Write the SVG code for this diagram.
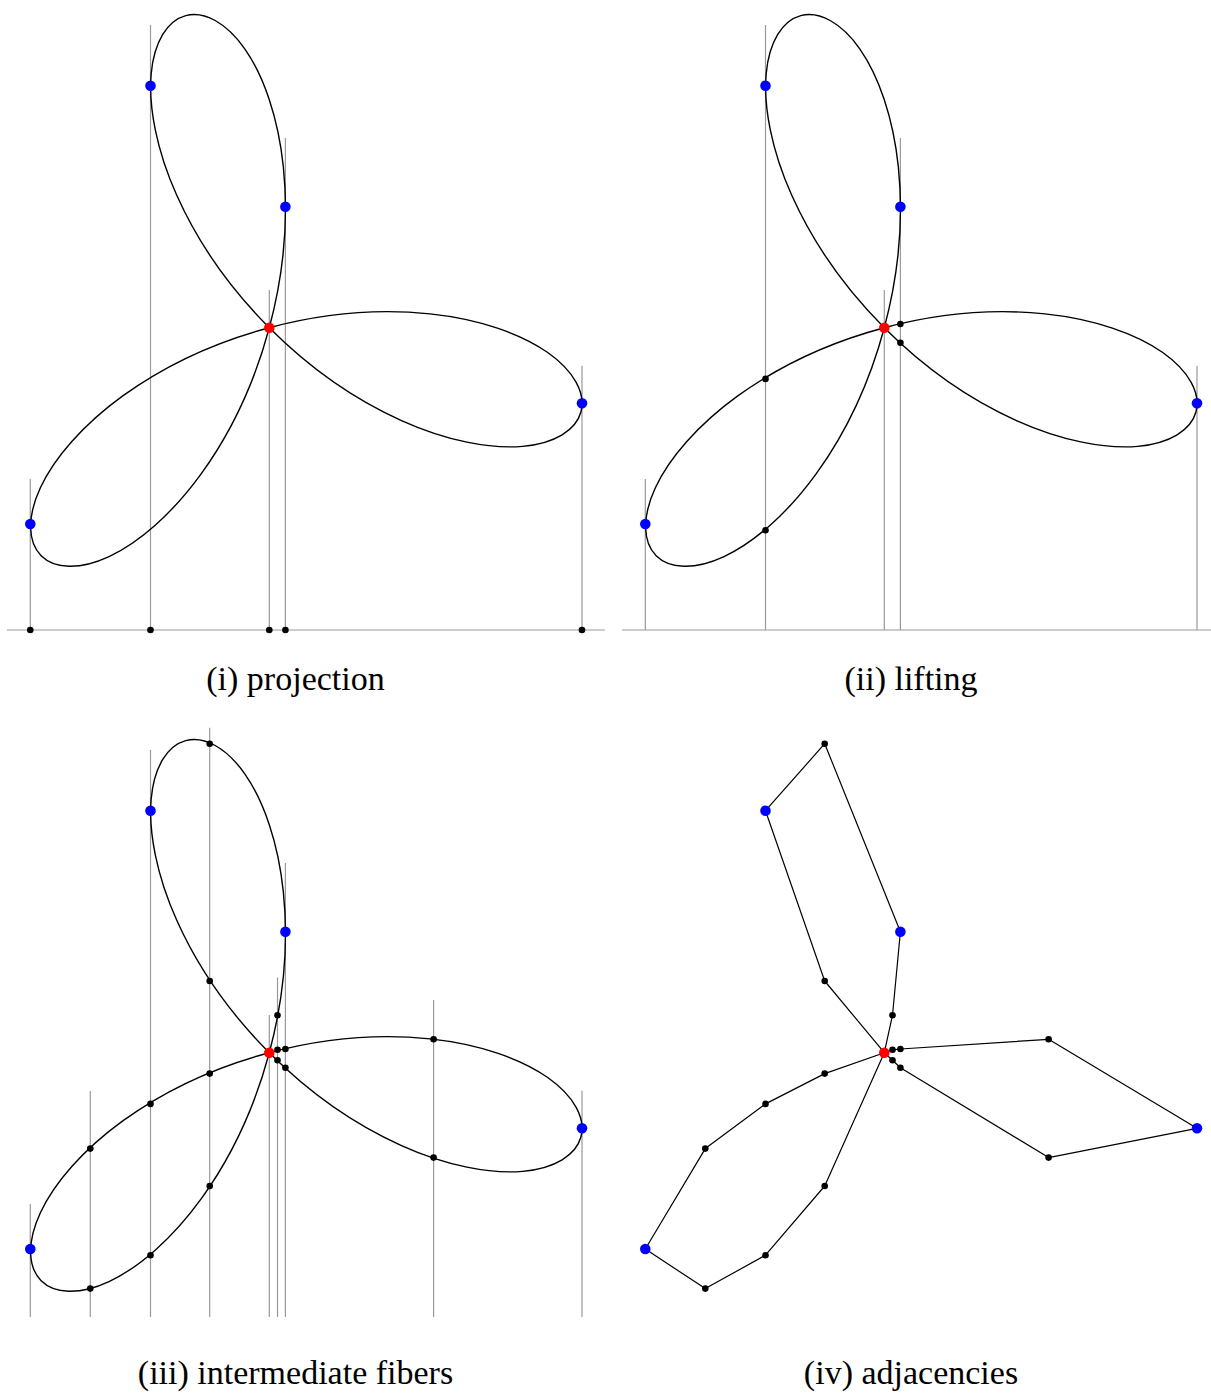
<svg xmlns="http://www.w3.org/2000/svg" xmlns:xlink="http://www.w3.org/1999/xlink" width="1211" height="1394" viewBox="0 0 1211 1394">
<style>
.fib{stroke:#999;stroke-width:1.2;fill:none}
.edge{stroke:#000;stroke-width:1.2;fill:none;stroke-linejoin:round}
.blue{fill:#0000ff}
.red{fill:#ff0000}
.pt{fill:#000}
.cap{font-family:"Liberation Serif","Times New Roman",serif;font-size:34px;fill:#000;text-anchor:middle}
</style>
<defs>
<path id="petal" d="M0,0 C151.2,-87.3 317.9,-146.6 469.8,-171 C621.8,-195.4 758.2,-184.8 852.9,-150.4 C947.6,-115.9 1000,-58.2 1000,0 C1000,58.2 947.6,115.9 852.9,150.4 C758.2,184.8 621.8,195.4 469.8,171 C317.9,146.6 151.2,87.3 0,0" fill="none" stroke="#000" stroke-width="1.4" vector-effect="non-scaling-stroke"/>
<g id="rose">
<use href="#petal" xlink:href="#petal"/>
<use href="#petal" xlink:href="#petal" transform="rotate(120)"/>
<use href="#petal" xlink:href="#petal" transform="rotate(240)"/>
</g>
</defs>
<rect width="1211" height="1394" fill="#fff"/>

<!-- Panel (i) projection -->
<g id="panel1">
<g id="panel1-fibers" class="fib">
<line x1="7" y1="630" x2="605" y2="630"/>
<line x1="30.3" y1="479" x2="30.3" y2="630"/>
<line x1="150.5" y1="25" x2="150.5" y2="630"/>
<line x1="269.3" y1="290" x2="269.3" y2="630"/>
<line x1="285.4" y1="138" x2="285.4" y2="630"/>
<line x1="582" y1="365.7" x2="582" y2="630"/>
</g>
<use id="curve1" href="#rose" xlink:href="#rose" transform="matrix(0.3117,0.0841,0.0835,-0.3118,269.3,327.7)"/>
<g id="panel1-points">
<circle class="pt" cx="30.3" cy="630" r="3.3"/>
<circle class="pt" cx="150.5" cy="630" r="3.3"/>
<circle class="pt" cx="269.3" cy="630" r="3.3"/>
<circle class="pt" cx="285.4" cy="630" r="3.3"/>
<circle class="pt" cx="582" cy="630" r="3.3"/>
<circle class="blue" cx="150.5" cy="85.7" r="5.3"/>
<circle class="blue" cx="285.4" cy="206.7" r="5.3"/>
<circle class="blue" cx="582" cy="403.3" r="5.3"/>
<circle class="blue" cx="30.3" cy="524" r="5.3"/>
<circle class="red" cx="269.3" cy="327.7" r="5.3"/>
</g>
<text class="cap" x="295.5" y="690">(i) projection</text>
</g>

<!-- Panel (ii) lifting -->
<g id="panel2">
<g id="panel2-fibers" class="fib">
<line x1="622" y1="630" x2="1211" y2="630"/>
<line x1="645.3" y1="479" x2="645.3" y2="630"/>
<line x1="765.5" y1="25" x2="765.5" y2="630"/>
<line x1="884.3" y1="290" x2="884.3" y2="630"/>
<line x1="900.4" y1="138" x2="900.4" y2="630"/>
<line x1="1197" y1="365.7" x2="1197" y2="630"/>
</g>
<use id="curve2" href="#rose" xlink:href="#rose" transform="matrix(0.3117,0.0841,0.0835,-0.3118,884.3,327.7)"/>
<g id="panel2-points">
<circle class="pt" cx="765.5" cy="378.9" r="3.3"/>
<circle class="pt" cx="765.5" cy="530.2" r="3.3"/>
<circle class="pt" cx="900.4" cy="324" r="3.3"/>
<circle class="pt" cx="900.4" cy="342.7" r="3.3"/>
<circle class="blue" cx="765.5" cy="85.7" r="5.3"/>
<circle class="blue" cx="900.4" cy="206.7" r="5.3"/>
<circle class="blue" cx="1197" cy="403.3" r="5.3"/>
<circle class="blue" cx="645.3" cy="524" r="5.3"/>
<circle class="red" cx="884.3" cy="327.7" r="5.3"/>
</g>
<text class="cap" x="911" y="690">(ii) lifting</text>
</g>

<!-- Panel (iii) intermediate fibers -->
<g id="panel3">
<g id="panel3-fibers" class="fib">
<line x1="30.3" y1="1204" x2="30.3" y2="1317"/>
<line x1="90.3" y1="1091" x2="90.3" y2="1317"/>
<line x1="150.5" y1="750" x2="150.5" y2="1317"/>
<line x1="209.7" y1="727.8" x2="209.7" y2="1317"/>
<line x1="269.3" y1="1015" x2="269.3" y2="1317"/>
<line x1="277.5" y1="977.5" x2="277.5" y2="1317"/>
<line x1="285.4" y1="863" x2="285.4" y2="1317"/>
<line x1="433.6" y1="1000" x2="433.6" y2="1317"/>
<line x1="582" y1="1090.7" x2="582" y2="1317"/>
</g>
<use id="curve3" href="#rose" xlink:href="#rose" transform="matrix(0.3117,0.0841,0.0835,-0.3118,269.3,1052.7)"/>
<g id="panel3-points">
<circle class="pt" cx="209.7" cy="743.7" r="3.3"/>
<circle class="pt" cx="209.7" cy="981" r="3.3"/>
<circle class="pt" cx="277.5" cy="1015.2" r="3.3"/>
<circle class="pt" cx="277.5" cy="1049.8" r="3.3"/>
<circle class="pt" cx="285.4" cy="1049" r="3.3"/>
<circle class="pt" cx="277.5" cy="1060.3" r="3.3"/>
<circle class="pt" cx="285.4" cy="1067.7" r="3.3"/>
<circle class="pt" cx="209.7" cy="1073.6" r="3.3"/>
<circle class="pt" cx="150.5" cy="1103.9" r="3.3"/>
<circle class="pt" cx="90.3" cy="1148.6" r="3.3"/>
<circle class="pt" cx="209.7" cy="1186" r="3.3"/>
<circle class="pt" cx="150.5" cy="1255.2" r="3.3"/>
<circle class="pt" cx="90.3" cy="1288.6" r="3.3"/>
<circle class="pt" cx="433.6" cy="1039.3" r="3.3"/>
<circle class="pt" cx="433.6" cy="1157.6" r="3.3"/>
<circle class="blue" cx="150.5" cy="810.7" r="5.3"/>
<circle class="blue" cx="285.4" cy="931.7" r="5.3"/>
<circle class="blue" cx="582" cy="1128.3" r="5.3"/>
<circle class="blue" cx="30.3" cy="1249" r="5.3"/>
<circle class="red" cx="269.3" cy="1052.7" r="5.3"/>
</g>
<text class="cap" x="295.5" y="1384">(iii) intermediate fibers</text>
</g>

<!-- Panel (iv) adjacencies -->
<g id="panel4">
<g id="connectors" class="edge">
<polyline points="884.3,1052.7 824.7,981 765.5,810.7 824.7,743.7 900.4,931.7 892.5,1015.2 884.3,1052.7"/>
<polyline points="884.3,1052.7 892.5,1049.8 900.4,1049 1048.6,1039.3 1197,1128.3 1048.6,1157.6 900.4,1067.7 892.5,1060.3 884.3,1052.7"/>
<polyline points="884.3,1052.7 824.7,1073.6 765.5,1103.9 705.3,1148.6 645.3,1249 705.3,1288.6 765.5,1255.2 824.7,1186 884.3,1052.7"/>
</g>
<g id="n-top"><circle class="pt" cx="824.7" cy="743.7" r="3.3"/></g>
<g id="n-tl"><circle class="pt" cx="824.7" cy="981" r="3.3"/></g>
<g id="n-tr"><circle class="pt" cx="892.5" cy="1015.2" r="3.3"/></g>
<g id="n-u1"><circle class="pt" cx="892.5" cy="1049.8" r="3.3"/></g>
<g id="n-u2"><circle class="pt" cx="900.4" cy="1049" r="3.3"/></g>
<g id="n-l1"><circle class="pt" cx="892.5" cy="1060.3" r="3.3"/></g>
<g id="n-l2"><circle class="pt" cx="900.4" cy="1067.7" r="3.3"/></g>
<g id="n-ru"><circle class="pt" cx="1048.6" cy="1039.3" r="3.3"/></g>
<g id="n-rl"><circle class="pt" cx="1048.6" cy="1157.6" r="3.3"/></g>
<g id="n-b1"><circle class="pt" cx="824.7" cy="1073.6" r="3.3"/></g>
<g id="n-b2"><circle class="pt" cx="765.5" cy="1103.9" r="3.3"/></g>
<g id="n-b3"><circle class="pt" cx="705.3" cy="1148.6" r="3.3"/></g>
<g id="n-b4"><circle class="pt" cx="705.3" cy="1288.6" r="3.3"/></g>
<g id="n-b5"><circle class="pt" cx="765.5" cy="1255.2" r="3.3"/></g>
<g id="n-b6"><circle class="pt" cx="824.7" cy="1186" r="3.3"/></g>
<g id="n-B1"><circle class="blue" cx="765.5" cy="810.7" r="5.3"/></g>
<g id="n-B2"><circle class="blue" cx="900.4" cy="931.7" r="5.3"/></g>
<g id="n-B3"><circle class="blue" cx="1197" cy="1128.3" r="5.3"/></g>
<g id="n-B4"><circle class="blue" cx="645.3" cy="1249" r="5.3"/></g>
<g id="n-C"><circle class="red" cx="884.3" cy="1052.7" r="5.3"/></g>
<text class="cap" x="911" y="1384">(iv) adjacencies</text>
</g>
</svg>
